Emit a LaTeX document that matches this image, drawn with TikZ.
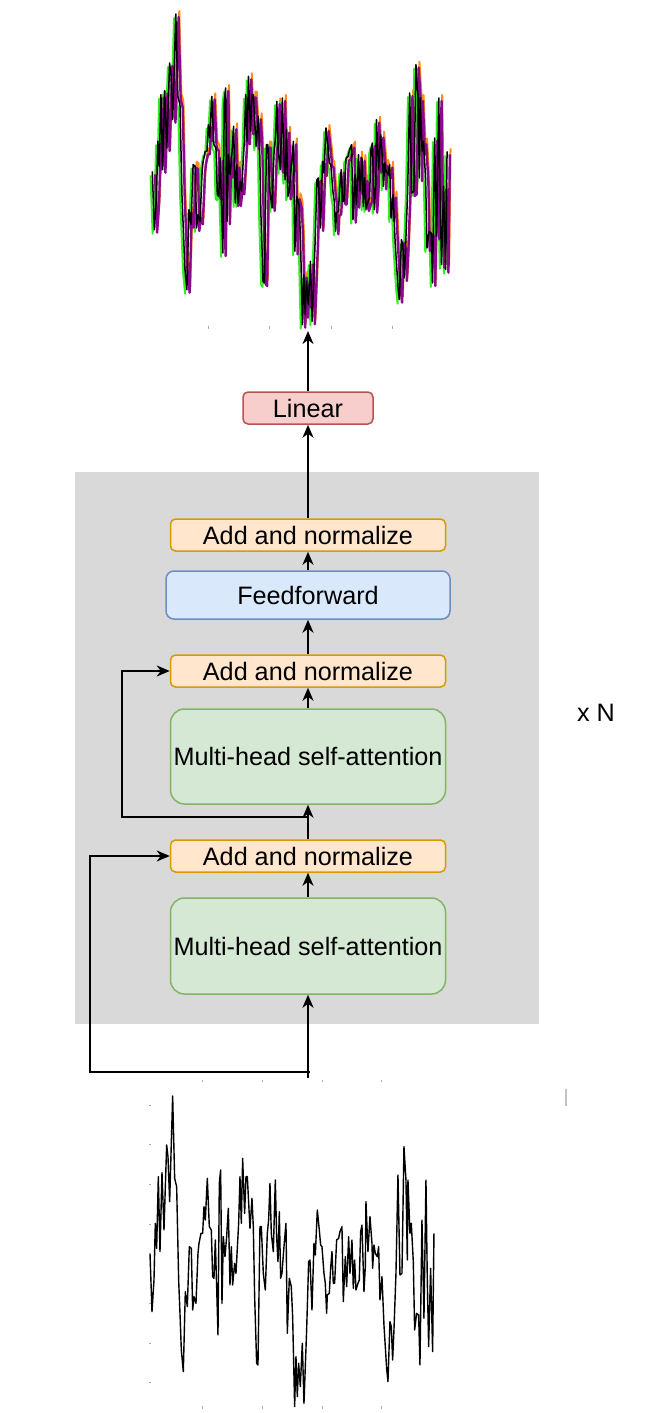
\documentclass[tikz,border=0pt]{standalone}
\usepackage{fontspec}
\setmainfont{Liberation Sans}
\usetikzlibrary{arrows.meta}
\definecolor{stackgray}{RGB}{217,217,217}
\definecolor{linfill}{HTML}{F8CECC}
\definecolor{linline}{HTML}{B85450}
\definecolor{addfill}{HTML}{FFE6CC}
\definecolor{addline}{HTML}{D79B00}
\definecolor{fffill}{HTML}{DAE8FC}
\definecolor{ffline}{HTML}{6C8EBF}
\definecolor{attfill}{HTML}{D5E8D4}
\definecolor{attline}{HTML}{82B366}
\definecolor{sigorange}{HTML}{FF8C1A}
\definecolor{siggreen}{HTML}{33EE22}
\definecolor{sigpurple}{HTML}{8A0A8A}
\definecolor{tickgray}{RGB}{170,170,170}
\newcommand\sigpath{(330,520) -- (336,695) -- (342,600) -- (346,430) -- (350,505) -- (355,290) -- (360,515) -- (366,278) -- (372,450) -- (380,195) -- (384,230) -- (389,365) -- (398,48) -- (404,295) -- (410,320) -- (416,600) -- (420,700) -- (424,810) -- (430,875) -- (436,635) -- (442,680) -- (448,500) -- (454,505) -- (458,690) -- (462,650) -- (468,670) -- (474,520) -- (477,490) -- (483,460) -- (488,460) -- (492,380) -- (496,420) -- (502,295) -- (508,440) -- (514,450) -- (518,590) -- (522,595) -- (526,480) -- (530,620) -- (534,765) -- (538,310) -- (542,270) -- (546,670) -- (550,470) -- (555,530) -- (560,470) -- (565,385) -- (570,615) -- (574,500) -- (578,615) -- (584,550) -- (588,580) -- (596,430) -- (600,290) -- (604,430) -- (608,235) -- (614,400) -- (618,290) -- (622,290) -- (630,445) -- (636,355) -- (640,440) -- (644,650) -- (650,850) -- (654,855) -- (660,440) -- (664,440) -- (670,580) -- (676,630) -- (682,460) -- (686,420) -- (690,310) -- (694,460) -- (700,515) -- (706,300) -- (710,470) -- (714,545) -- (718,395) -- (722,595) -- (726,580) -- (732,500) -- (738,430) -- (742,760) -- (748,595) -- (754,620) -- (758,710) -- (764,980) -- (768,830) -- (772,950) -- (776,850) -- (781,920) -- (787,790) -- (792,970) -- (800,750) -- (806,545) -- (810,540) -- (816,690) -- (822,490) -- (826,525) -- (832,390) -- (838,450) -- (842,495) -- (846,500) -- (852,580) -- (856,610) -- (860,700) -- (862,645) -- (868,640) -- (872,565) -- (876,515) -- (880,610) -- (884,610) -- (890,480) -- (896,475) -- (900,455) -- (906,440) -- (910,665) -- (916,530) -- (920,620) -- (926,470) -- (930,580) -- (936,480) -- (940,625) -- (944,540) -- (948,630) -- (954,610) -- (958,600) -- (962,455) -- (966,435) -- (972,635) -- (976,560) -- (978,365) -- (984,515) -- (990,410) -- (996,490) -- (998,565) -- (1002,495) -- (1006,520) -- (1012,530) -- (1016,500) -- (1020,660) -- (1026,590) -- (1032,735) -- (1036,800) -- (1040,865) -- (1044,905) -- (1050,725) -- (1054,740) -- (1058,840) -- (1062,750) -- (1068,580) -- (1074,285) -- (1080,585) -- (1086,580) -- (1092,200) -- (1098,300) -- (1102,540) -- (1104,300) -- (1110,460) -- (1114,430) -- (1120,545) -- (1124,750) -- (1130,700) -- (1136,705) -- (1140,855) -- (1146,420) -- (1152,715) -- (1158,300) -- (1162,600) -- (1166,800) -- (1172,565) -- (1178,815) -- (1182,460)}
\tikzset{
  blk/.style={draw, line width=0.75pt, rounded corners=2.5pt, minimum height=16pt, inner sep=0pt, font=\fontsize{12.6}{15}\selectfont, text=black},
  linbox/.style={blk, fill=linfill, draw=linline, minimum width=65pt},
  addbox/.style={blk, fill=addfill, draw=addline, minimum width=137.5pt},
  ffbox/.style={blk, fill=fffill, draw=ffline, minimum width=142pt, minimum height=24pt, rounded corners=4pt},
  attbox/.style={blk, fill=attfill, draw=attline, minimum width=137.5pt, minimum height=47.5pt, rounded corners=7pt},
  arr/.style={draw=black, line width=0.9pt, -{Stealth[length=6.5pt,width=5.5pt,inset=2pt]}},
  sig/.style={line width=0.8pt, line join=round},
  tick/.style={draw=tickgray, line width=0.5pt}
}
\begin{document}
\begin{tikzpicture}[x=0.5pt,y=-0.5pt]
\useasboundingbox (0,0) rectangle (648,1413);
% background stack
\node[fill=stackgray, inner sep=0pt, minimum width=232pt, minimum height=276pt] (stack) at (307,748) {};
% blocks
\node[linbox] (lin) at (308,408) {Linear};
\node[addbox] (add3) at (308,535) {Add and normalize};
\node[ffbox] (ff) at (308,595) {Feedforward};
\node[addbox] (add2) at (308,671) {Add and normalize};
\node[attbox] (att2) at (308,756.5) {Multi-head self-attention};
\node[addbox] (add1) at (308,856) {Add and normalize};
\node[attbox, minimum height=48pt] (att1) at (308,946) {Multi-head self-attention};
\node[font=\fontsize{12.6}{15}\selectfont] (xn) at (596,713) {x N};
% coordinates
\coordinate (entry) at (308,1078);
\coordinate (r1a) at (310,1072);
\coordinate (r1b) at (90,1072);
\coordinate (r2a) at (308,817);
\coordinate (r2b) at (122,817);
\coordinate (out) at (308,331);
% main flow
\draw[arr] (entry) -- (att1.south);
\draw[arr] (att1.north) -- (add1.south);
\draw[arr] (add1.north) -- (att2.south);
\draw[arr] (att2.north) -- (add2.south);
\draw[arr] (add2.north) -- (ff.south);
\draw[arr] (ff.north) -- (add3.south);
\draw[arr] (add3.north) -- (lin.south);
% residuals
\draw[arr] (r1a) -- (r1b) |- (add1.west);
\draw[arr] (r2a) -- (r2b) |- (add2.west);
% output signal (top)
\begin{scope}[shift={(38.8,-1)}, xscale=0.346, yscale=0.3333]
  \draw[sig, sigorange, line width=1pt] [shift={(8,-12)}] \sigpath;
  \draw[sig, siggreen, line width=1pt] [shift={(-7,9)}] \sigpath;
  \draw[sig, sigpurple, line width=1.2pt] [shift={(6,6)}] \sigpath;
  \draw[sig, black, line width=0.75pt] [shift={(-2,-3)}] \sigpath;
\end{scope}
\draw[arr] (lin.north) -- (out);
\foreach \tx in {208,269,331,392} \draw[tick] (\tx,326) -- (\tx,328.5);
% input signal (bottom)
\begin{scope}[shift={(40,1080)}, xscale=0.3333, yscale=0.3333]
  \draw[sig, black, line width=0.7pt] \sigpath;
\end{scope}
\foreach \tx in {202,262,322,381} {
  \draw[tick] (\tx,1079.5) -- (\tx,1082);
  \draw[tick] (\tx,1406) -- (\tx,1408.5);
}
\foreach \ty in {1105,1144,1184,1224,1303,1343,1382} \draw[tick] (149,\ty) -- (151,\ty);
\draw[draw=tickgray!70, line width=0.6pt] (566,1089) -- (566,1106);
\end{tikzpicture}
\end{document}
